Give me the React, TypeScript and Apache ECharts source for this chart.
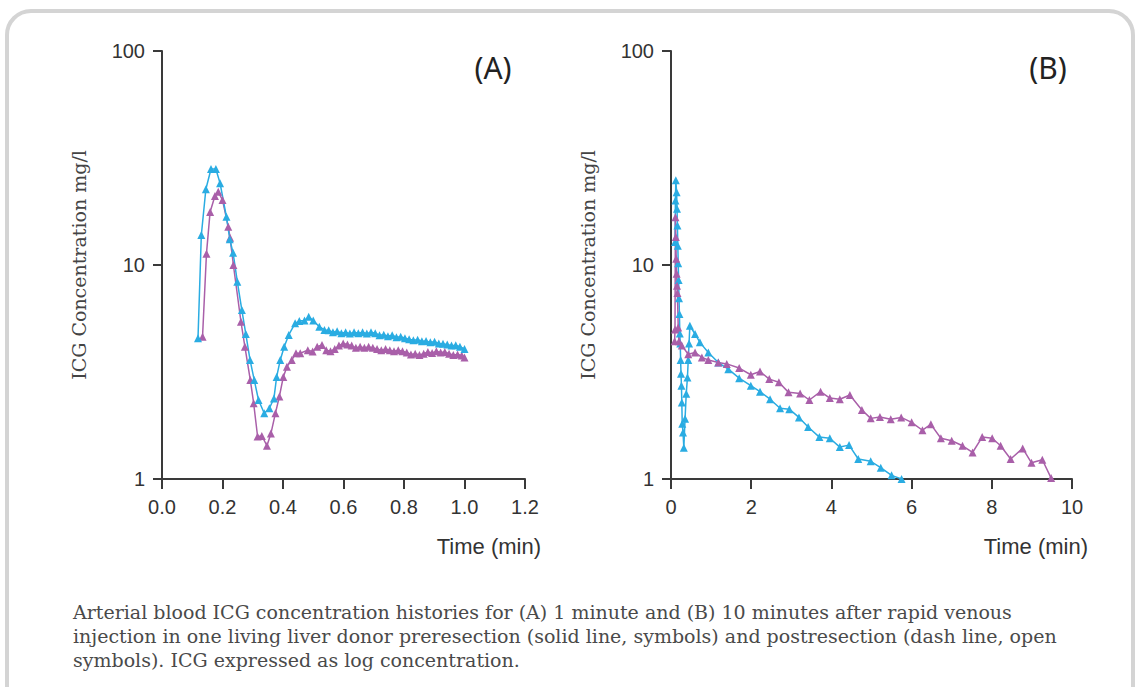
import React, { useEffect, useRef } from "react";
import * as echarts from "echarts";

const CYAN = "#2aace2";
const MAGENTA = "#a95fa9";

// Panel A (1 minute)
const timeA_pre = [0.119, 0.13, 0.145, 0.162, 0.178, 0.192, 0.213, 0.224, 0.235, 0.249, 0.264, 0.277, 0.291, 0.305, 0.319, 0.338, 0.355, 0.37, 0.379, 0.391, 0.404, 0.419, 0.44, 0.454, 0.471, 0.485, 0.5, 0.52, 0.537,
  0.551, 0.565, 0.579, 0.593, 0.607, 0.621, 0.635, 0.649, 0.663, 0.677, 0.691, 0.705, 0.719, 0.733, 0.747, 0.761, 0.775, 0.789, 0.803, 0.817, 0.831, 0.845, 0.859, 0.873, 0.887, 0.901, 0.915, 0.929, 0.943, 0.957, 0.971, 0.985, 1.0];
const concA_pre = [4.55, 13.8, 22.6, 28.1, 28.1, 24.1, 16.8, 13.2, 11.4, 8.36, 6.16, 4.76, 3.6, 2.9, 2.34, 2.03, 2.14, 2.38, 3.0, 3.6, 4.15, 4.71, 5.34, 5.47, 5.5, 5.73, 5.5, 5.15, 4.97,
  4.95, 4.85, 4.9, 4.8, 4.85, 4.78, 4.85, 4.8, 4.85, 4.78, 4.85, 4.8, 4.7, 4.72, 4.65, 4.7, 4.6, 4.62, 4.55, 4.5, 4.45, 4.48, 4.4, 4.42, 4.35, 4.38, 4.3, 4.28, 4.25, 4.2, 4.22, 4.15, 4.05];

const timeA_post = [0.134, 0.147, 0.159, 0.175, 0.186, 0.2, 0.219, 0.225, 0.236, 0.261, 0.274, 0.292, 0.303, 0.316, 0.33, 0.347, 0.36, 0.375, 0.388, 0.401, 0.413, 0.429, 0.443, 0.457, 0.482, 0.498, 0.513, 0.529, 0.543,
  0.557, 0.571, 0.585, 0.599, 0.613, 0.627, 0.641, 0.655, 0.669, 0.683, 0.697, 0.711, 0.725, 0.739, 0.753, 0.767, 0.781, 0.795, 0.809, 0.823, 0.837, 0.851, 0.865, 0.879, 0.893, 0.907, 0.921, 0.935, 0.949, 0.963, 0.977, 0.991, 1.0];
const concA_post = [4.62, 11.3, 17.7, 21.0, 22.0, 20.1, 15.1, 13.4, 10.0, 5.43, 4.15, 2.9, 2.26, 1.58, 1.59, 1.43, 1.63, 2.03, 2.43, 3.0, 3.35, 3.6, 3.87, 3.87, 4.0, 3.94, 4.15, 4.23, 4.0,
  3.95, 4.05, 4.2, 4.3, 4.25, 4.2, 4.1, 4.15, 4.1, 4.15, 4.1, 4.05, 4.0, 4.05, 4.0, 3.95, 4.0, 3.95, 3.9, 3.82, 3.85, 3.8, 3.85, 3.92, 3.88, 3.95, 3.9, 3.92, 3.85, 3.8, 3.82, 3.78, 3.7];

// Panel B (10 minutes)
const timeB_pre = [0.1, 0.11, 0.12, 0.14, 0.15, 0.16, 0.17, 0.18, 0.19, 0.2, 0.21, 0.22, 0.23, 0.24, 0.25, 0.26, 0.27, 0.28, 0.3, 0.32, 0.35, 0.38, 0.41, 0.43, 0.45, 0.47,
  0.6, 0.72, 0.93, 1.18, 1.43, 1.7, 1.99, 2.22, 2.47, 2.72, 2.95, 3.19, 3.42, 3.7, 3.96, 4.21, 4.44, 4.67, 4.98, 5.23, 5.5, 5.75];
const concB_pre = [12.8, 20.0, 24.9, 21.9, 18.3, 15.3, 12.3, 10.2, 8.5, 7.0, 5.9, 4.78, 4.3, 3.6, 3.1, 2.73, 2.28, 1.81, 1.65, 1.4, 1.91, 2.5, 2.98, 3.6, 4.3, 5.2,
  4.76, 4.35, 3.9, 3.5, 3.26, 2.96, 2.73, 2.56, 2.36, 2.14, 2.12, 1.94, 1.75, 1.57, 1.55, 1.41, 1.44, 1.24, 1.21, 1.13, 1.04, 1.0];

const timeB_post = [0.09, 0.1, 0.11, 0.12, 0.13, 0.14, 0.15, 0.16, 0.18, 0.2, 0.27, 0.43, 0.6, 0.77, 0.93, 1.18, 1.39, 1.7, 1.99, 2.22, 2.45, 2.69, 2.93, 3.22, 3.45, 3.73, 3.96, 4.21, 4.46, 4.76, 4.98, 5.21, 5.48, 5.74,
  6.0, 6.27, 6.48, 6.73, 7.0, 7.27, 7.52, 7.76, 8.01, 8.22, 8.47, 8.77, 8.99, 9.26, 9.48];
const concB_post = [4.4, 5.0, 16.7, 13.5, 10.7, 9.1, 8.0, 7.4, 5.1, 4.4, 4.2, 3.83, 3.9, 3.7, 3.6, 3.5, 3.45, 3.3, 3.07, 3.18, 2.93, 2.83, 2.54, 2.51, 2.34, 2.56, 2.39, 2.36, 2.47, 2.1, 1.92, 1.95, 1.9, 1.94,
  1.84, 1.69, 1.8, 1.55, 1.51, 1.43, 1.33, 1.57, 1.55, 1.43, 1.24, 1.39, 1.19, 1.23, 1.01];

const xTicksA = [0, 1.2, 0.2];
const xTicksB = [0, 10, 2];
const yRange = [1, 100];

const captionLines = [
  "Arterial blood ICG concentration histories for (A) 1 minute and (B) 10 minutes after rapid venous",
  "injection in one living liver donor preresection (solid line, symbols) and postresection (dash line, open",
  "symbols). ICG expressed as log concentration.",
];

const zip = (t: number[], v: number[]) => t.map((x, i) => [x, v[i]]);

const axisColor = "#3a3a3a";
const sansFont = "Liberation Sans";

function xAxisCfg(grid: number, ticks: number[], decimals: number) {
  return {
    gridIndex: grid,
    type: "value",
    min: ticks[0],
    max: ticks[1],
    interval: ticks[2],
    axisLine: { show: true, onZero: false, lineStyle: { color: axisColor, width: 2 } },
    axisTick: { show: true, length: 10, lineStyle: { color: axisColor, width: 2 } },
    axisLabel: {
      fontSize: 20,
      color: "#333",
      margin: 18,
      fontFamily: sansFont,
      formatter: (v: number) => v.toFixed(decimals),
    },
    splitLine: { show: false },
  };
}

function yAxisCfg(grid: number) {
  return {
    gridIndex: grid,
    type: "log",
    logBase: 10,
    min: yRange[0],
    max: yRange[1],
    axisLine: { show: true, onZero: false, lineStyle: { color: axisColor, width: 2 } },
    axisTick: { show: true, length: 9, lineStyle: { color: axisColor, width: 2 } },
    minorTick: { show: false },
    axisLabel: { fontSize: 20, color: "#333", margin: 17, fontFamily: sansFont },
    splitLine: { show: false },
    name: "ICG Concentration mg/l",
    nameLocation: "middle",
    nameGap: 74,
    nameTextStyle: { fontFamily: "DejaVu Serif", fontSize: 19, color: "#444" },
  };
}

function lineSeries(name: string, color: string, x: number, data: number[][]) {
  return {
    name,
    type: "line",
    xAxisIndex: x,
    yAxisIndex: x,
    data,
    symbol: "triangle",
    symbolSize: 8,
    showSymbol: true,
    lineStyle: { color, width: 1.5 },
    itemStyle: { color },
    z: 3,
  };
}

export default function App() {
  const ref = useRef<HTMLDivElement>(null);
  useEffect(() => {
    document.body.style.margin = "0";
    if (!ref.current) return;
    const chart = echarts.init(ref.current, null, { renderer: "svg" });
    const text = (t: string, x: number, y: number, font: string, fill: string, align: string) => ({
      type: "text",
      x,
      y,
      z: 10,
      style: { text: t, font, fill, textAlign: align, textVerticalAlign: "middle" },
    });
    chart.setOption({
      animation: false,
      backgroundColor: "#ffffff",
      grid: [
        { left: 162, top: 51, width: 363, height: 428 },
        { left: 671, top: 51, width: 401, height: 428 },
      ],
      xAxis: [xAxisCfg(0, xTicksA, 1), xAxisCfg(1, xTicksB, 0)],
      yAxis: [yAxisCfg(0), yAxisCfg(1)],
      series: [
        lineSeries("Postresection (A)", MAGENTA, 0, zip(timeA_post, concA_post)),
        lineSeries("Preresection (A)", CYAN, 0, zip(timeA_pre, concA_pre)),
        lineSeries("Preresection (B)", CYAN, 1, zip(timeB_pre, concB_pre)),
        lineSeries("Postresection (B)", MAGENTA, 1, zip(timeB_post, concB_post)),
      ],
      graphic: [
        {
          type: "rect",
          z: -10,
          silent: true,
          shape: { x: 7, y: 11, width: 1126, height: 740, r: 24 },
          style: { fill: "#ffffff", stroke: "#d4d4d4", lineWidth: 4 },
        },
        text("(A)", 493, 67, `30px "Noto Sans"`, "#222", "center"),
        text("(B)", 1048, 67, `30px "Noto Sans"`, "#222", "center"),
        text("Time (min)", 541, 546, `22px "${sansFont}"`, "#333", "right"),
        text("Time (min)", 1088, 546, `22px "${sansFont}"`, "#333", "right"),
        ...captionLines.map((l, i) => text(l, 73, 612 + i * 24, `19px "DejaVu Serif"`, "#4a4a4a", "left")),
      ],
    });
    return () => chart.dispose();
  }, []);
  return <div ref={ref} style={{ width: 1136, height: 687 }} />;
}
